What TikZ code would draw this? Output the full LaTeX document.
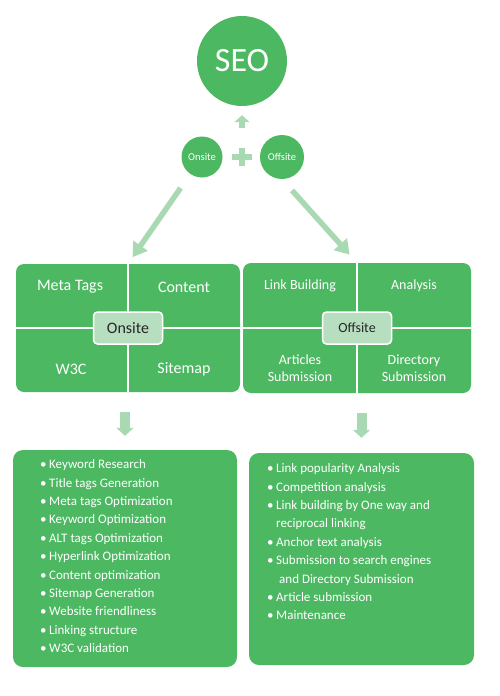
\documentclass[tikz,border=0pt]{standalone}
\usepackage{fontspec}
\setmainfont{Carlito}
\usetikzlibrary{arrows.meta, positioning}
\definecolor{seoGreen}{HTML}{4DB862}
\definecolor{paleGreen}{HTML}{A9D9B3}
\definecolor{tagFill}{HTML}{B7DFBF}
\NewDocumentCommand{\itm}{m}{\makebox[9pt][l]{•}#1}

\begin{document}
\begin{tikzpicture}[x=1pt, y=-1pt,
    circ/.style={circle, fill=seoGreen, text=white, inner sep=0pt},
    panel/.style={rectangle, rounded corners=8pt, fill=seoGreen, minimum width=224pt, minimum height=128pt},
    tag/.style={rectangle, rounded corners=4pt, fill=tagFill, draw=white, line width=1.5pt, minimum width=69pt, minimum height=32pt, text=black!85},
    quad/.style={text=white, align=center},
    listbox/.style={rectangle, rounded corners=10pt, fill=seoGreen},
    items/.style={text=white, align=left, anchor=north west, inner sep=0pt, font=\fontsize{13}{18.4}\selectfont},
    bigarrow/.style={paleGreen, line width=5.5pt, -{Triangle[width=17pt, length=14pt]}},
    downarrow/.style={paleGreen, line width=10pt, -{Triangle[width=17pt, length=8pt]}},
    uparrow/.style={paleGreen, line width=6pt, -{Triangle[width=15pt, length=7pt]}}]
    \useasboundingbox (0,0) rectangle (500,696);

    \node[circ, minimum size=90pt, font=\fontsize{34}{34}\selectfont] (seo) at (242,61) {SEO};
    \node[circ, minimum size=41pt, font=\fontsize{10.5}{12}\selectfont] (onc) at (202,157) {Onsite};
    \node[circ, minimum size=44pt, font=\fontsize{10.5}{12}\selectfont] (offc) at (282,157) {Offsite};
    \coordinate (plus) at (242,157);
    \draw[paleGreen, line width=6pt] ([xshift=-10pt]plus) -- ([xshift=10pt]plus)
        ([yshift=-9pt]plus) -- ([yshift=9pt]plus);

    % the two panels
    \node[panel] (onpanel) at (128,328) {};
    \draw[white, line width=1.5pt] (onpanel.north) -- (onpanel.south) (onpanel.west) -- (onpanel.east);
    \node[tag, font=\fontsize{16}{18}\selectfont] (ontag) at (onpanel.center) {Onsite};
    \node[quad, font=\fontsize{16}{18}\selectfont] (meta) at (70,287) {Meta Tags};
    \node[quad, font=\fontsize{16}{18}\selectfont] (content) at (184,287) {Content};
    \node[quad, font=\fontsize{16}{18}\selectfont] (wthree) at (71,369) {W3C};
    \node[quad, font=\fontsize{16}{18}\selectfont] (sitemap) at (184,369) {Sitemap};

    \node[panel, minimum width=228pt, minimum height=130pt] (offpanel) at (357,328) {};
    \draw[white, line width=1.5pt] (offpanel.north) -- (offpanel.south) (offpanel.west) -- (offpanel.east);
    \node[tag, font=\fontsize{14}{16}\selectfont] (offtag) at (offpanel.center) {Offsite};
    \node[quad, font=\fontsize{14}{16.5}\selectfont] (linkb) at (300,286) {Link Building};
    \node[quad, font=\fontsize{14}{16.5}\selectfont] (analysis) at (414,286) {Analysis};
    \node[quad, font=\fontsize{14}{16.5}\selectfont] (articles) at (300,368) {Articles\\Submission};
    \node[quad, font=\fontsize{14}{16.5}\selectfont] (directory) at (414,368) {Directory\\Submission};

    % the two lists
    \node[listbox, minimum width=224pt, minimum height=217pt] (onlist) at (125,558.5) {};
    \node[items] (onitems) at (40,459.5) {\itm{Keyword Research}\\ \itm{Title tags Generation}\\
        \itm{Meta tags Optimization}\\ \itm{Keyword Optimization}\\ \itm{ALT tags Optimization}\\
        \itm{Hyperlink Optimization}\\ \itm{Content optimization}\\ \itm{Sitemap Generation}\\
        \itm{Website friendliness}\\ \itm{Linking structure}\\ \itm{W3C validation}};
    \node[listbox, minimum width=225pt, minimum height=212pt] (offlist) at (361.5,559) {};
    \node[items] (offitems) at (267,463.5) {\itm{Link popularity Analysis}\\ \itm{Competition analysis}\\
        \itm{Link building by One way and}\\ \hspace*{9pt}reciprocal linking\\ \itm{Anchor text analysis}\\
        \itm{Submission to search engines}\\ \hspace*{12pt}and Directory Submission\\
        \itm{Article submission}\\ \itm{Maintenance}};

    \path (onc) edge[bigarrow, shorten <=17pt, shorten >=8pt] (onpanel.north);
    \path (offc.south) edge[bigarrow, shorten <=15pt, shorten >=11pt] (offpanel.north);
    \path (plus) edge[uparrow, shorten <=29pt, shorten >=9pt] (seo);
    \path (onpanel.south -| onlist.north) edge[downarrow, shorten <=20pt, shorten >=14pt] (onlist.north);
    \path (offpanel.south -| offlist.north) edge[downarrow, shorten <=20pt, shorten >=15pt] (offlist.north);
\end{tikzpicture}
\end{document}
